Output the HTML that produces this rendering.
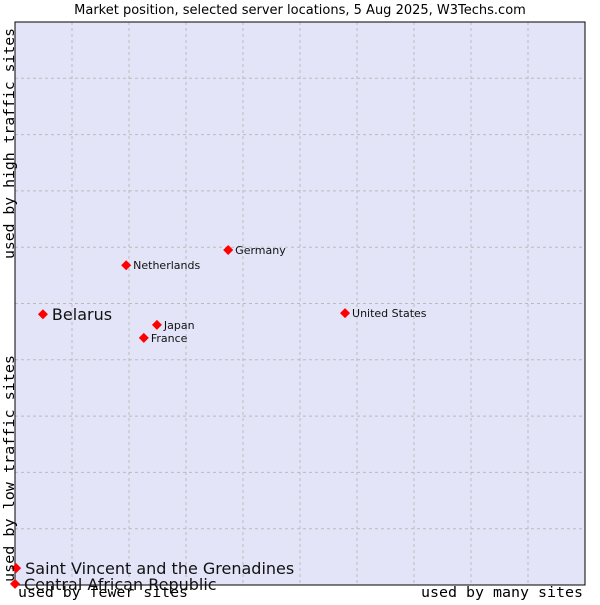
<!DOCTYPE html>
<html><head><meta charset="utf-8"><style>
body{margin:0;background:#fff;width:600px;height:600px;overflow:hidden}
svg text{font-family:"DejaVu Sans","Liberation Sans",sans-serif}
.mono{font-family:"DejaVu Sans Mono","Liberation Mono",monospace}
</style></head><body>
<svg id="c" width="600" height="600" xmlns="http://www.w3.org/2000/svg">
<text x="300" y="14" text-anchor="middle" font-size="13" fill="#000">Market position, selected server locations, 5 Aug 2025, W3Techs.com</text>
<rect x="15" y="22" width="570" height="563" fill="#e3e4f8"/>
<g id="grid"></g>
<rect x="15" y="22" width="570" height="563" fill="none" stroke="#000" stroke-width="1"/>
<g id="pts"></g>
<text class="mono" transform="translate(14,259) rotate(-90)" font-size="14" textLength="231" lengthAdjust="spacingAndGlyphs">used by high traffic sites</text>
<text class="mono" transform="translate(14,582) rotate(-90)" font-size="14" textLength="227" lengthAdjust="spacingAndGlyphs">used by low traffic sites</text>
<text class="mono" x="18" y="597" font-size="14" textLength="170" lengthAdjust="spacingAndGlyphs">used by fewer sites</text>
<text class="mono" x="421" y="597" font-size="14" textLength="162" lengthAdjust="spacingAndGlyphs">used by many sites</text>
</svg>
<script>
const names=["Belarus","Netherlands","Germany","Japan","France","United States","Saint Vincent and the Grenadines","Central African Republic"];
const xs=[4.9,19.5,37.4,24.9,22.6,57.9,0.2,0];
const ys=[48.1,56.8,59.5,46.2,43.9,48.3,3.0,0.2];
const big=[true,false,false,false,false,false,true,true];
const X=v=>15+v*5.7, Y=v=>585-v*5.63;
const NS="http://www.w3.org/2000/svg";
const g=document.getElementById('grid');
for(let i=1;i<10;i++){
 const l=document.createElementNS(NS,'line');
 l.setAttribute('x1',X(i*10));l.setAttribute('x2',X(i*10));l.setAttribute('y1',22);l.setAttribute('y2',585);
 l.setAttribute('stroke','#bbb');l.setAttribute('stroke-dasharray','3,3');
 
 
 g.appendChild(l);
 const h=document.createElementNS(NS,'line');
 h.setAttribute('y1',Y(i*10));h.setAttribute('y2',Y(i*10));h.setAttribute('x1',15);h.setAttribute('x2',585);
 h.setAttribute('stroke','#bbb');h.setAttribute('stroke-dasharray','3,3');
 
 
 g.appendChild(h);
}
const p=document.getElementById('pts');
names.forEach((n,i)=>{
 const x=X(xs[i]),y=Y(ys[i]);
 const d=document.createElementNS(NS,'polygon');
 d.setAttribute('points',`${x},${y-5} ${x+5},${y} ${x},${y+5} ${x-5},${y}`);
 d.setAttribute('fill','#f00');
 
 
 p.appendChild(d);
 const t=document.createElementNS(NS,'text');
 t.setAttribute('x',x+(big[i]?9:7));t.setAttribute('y',y+(big[i]?6:4));
 t.setAttribute('font-size',big[i]?16:11);t.setAttribute('fill','#111');
 t.textContent=n;
 
 
 p.appendChild(t);
});
</script>
</body></html>
